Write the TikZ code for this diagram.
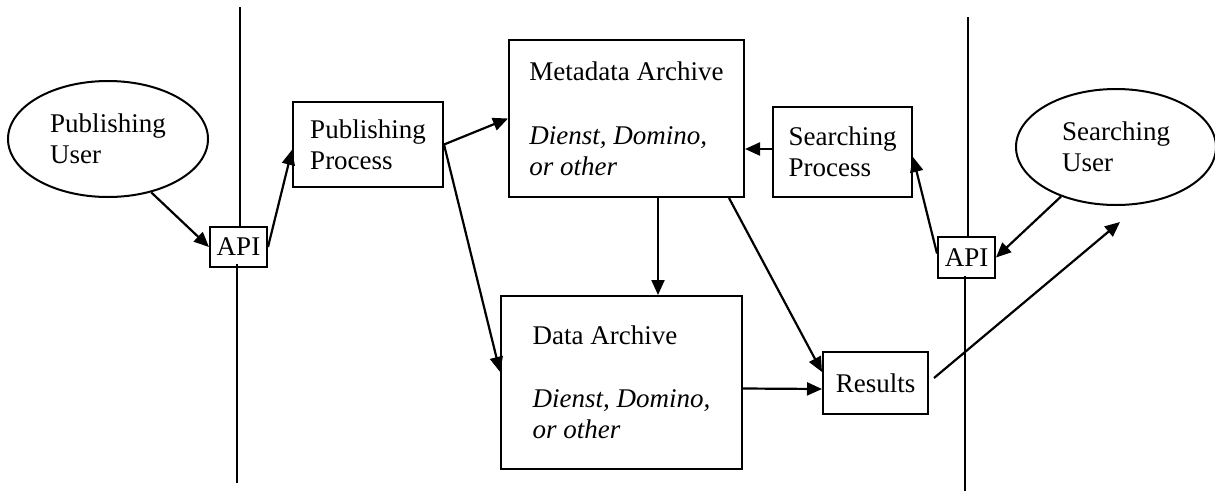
\documentclass[tikz,border=0pt]{standalone}
\usepackage{fontspec}
\setmainfont{Liberation Serif}
\usetikzlibrary{arrows.meta,shapes.geometric}
\begin{document}
\begin{tikzpicture}[x=1pt,y=-1pt,
  every node/.style={font=\fontsize{27}{31}\selectfont},
  boxnode/.style={draw,line width=2pt,rectangle,align=left,inner sep=0pt},
  usernode/.style={draw,line width=2pt,ellipse,align=left,inner sep=0pt,minimum width=200pt,minimum height=116pt},
  arr/.style={line width=2.2pt,-{Triangle[length=15pt,width=13pt]}},
  wall/.style={line width=2.2pt}]
\useasboundingbox (0,0) rectangle (1215,491);

\node[usernode] (PU) at (108,139) {Publishing\\User};
\node[usernode] (SU) at (1116,147) {Searching\\User};

\node[boxnode,minimum width=57pt,minimum height=40pt] (apiL) at (238.5,247) {API};
\node[boxnode,minimum width=57pt,minimum height=41pt] (apiR) at (966.5,257.5) {API};

\node[boxnode,minimum width=150pt,minimum height=85pt] (PP) at (368,144.5) {Publishing\\Process};
\node[boxnode,minimum width=139pt,minimum height=90pt] (SP) at (842.5,152) {Searching\\Process};

\node[boxnode,minimum width=235pt,minimum height=157pt] (Meta) at (626.5,118.5)
  {Metadata Archive\\[33pt]\textit{Dienst, Domino,}\\\textit{or other}};
\node[boxnode,minimum width=241pt,minimum height=173pt] (Data) at (621.5,382.5)
  {Data Archive\\[32pt]\textit{Dienst, Domino,}\\\textit{or other}};

\node[boxnode,minimum width=105pt,minimum height=62pt] (Res) at (875.5,383) {Results};

% walls
\coordinate (lt) at (240,7);
\coordinate (lb) at (237,483);
\coordinate (rt) at (968,17);
\coordinate (rb) at (965,491);
\draw[wall] (lt) -- (lt |- apiL.north);
\draw[wall] ([yshift=4pt]lb |- apiL.south) -- (lb);
\draw[wall] (rt) -- (rt |- apiR.north);
\draw[wall] ([yshift=3pt]rb |- apiR.south) -- (rb);

% connectors
\draw[arr] (PU.-51) -- (apiL.west);
\draw[arr] (apiL.east) -- (PP.184);
\draw[arr] (PP.east) -- (Meta.west);
\draw[arr] (PP.east) -- (Data.175);
\draw[arr] ([yshift=3pt]SP.west) -- ([yshift=3pt]SP.west -| Meta.east);
\draw[arr] ([xshift=31.5pt]Meta.south) -- ([xshift=31.5pt]Meta.south |- Data.north);
\draw[arr] ([xshift=-16pt]Meta.south east) -- ([yshift=11pt]Res.west);
\draw[arr] ([yshift=-6pt]Data.east) -- ([yshift=-6pt]Res.west);
\coordinate (resTip) at (1120,222);
\draw[arr] ([xshift=5pt,yshift=5pt]Res.east) -- (resTip);
\draw[arr] (SU.222) -- (apiR.east);
\draw[arr] ([yshift=4pt]apiR.west) -- ([yshift=-5pt]SP.east);
\end{tikzpicture}
\end{document}
